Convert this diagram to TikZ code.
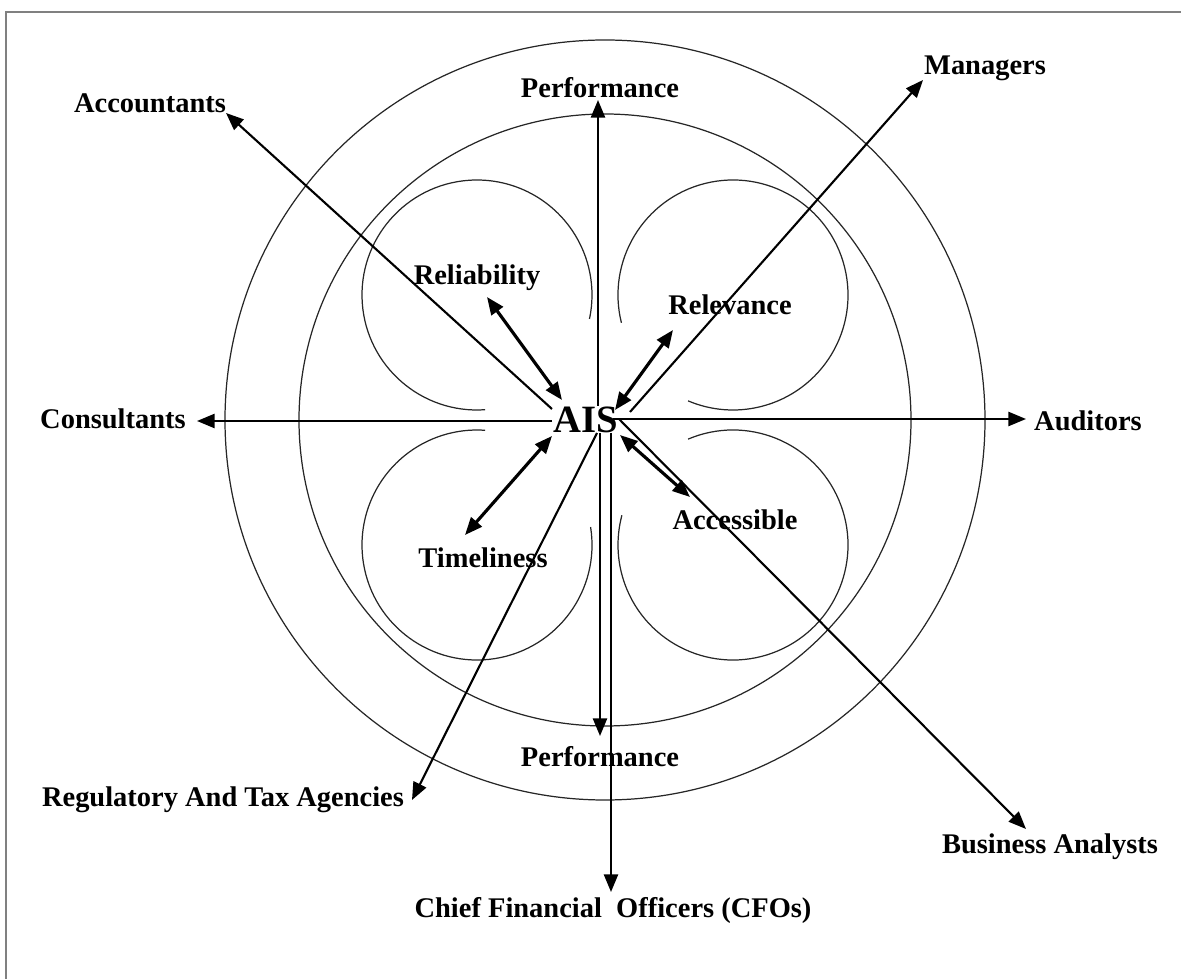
\documentclass[tikz,border=0pt]{standalone}
\usepackage{fontspec}
\setmainfont{Liberation Serif}
\usetikzlibrary{arrows.meta}

\begin{document}
\begin{tikzpicture}[x=0.02cm, y=-0.02cm, >={Triangle[length=10pt,width=8pt]},
    lbl/.style={font=\bfseries\fontsize{16.2}{19}\selectfont, inner sep=0pt},
    spoke/.style={->, line width=1.2pt},
    link/.style={<->, line width=1.8pt},
    ring/.style={line width=0.7pt, draw=black!85}]
    \useasboundingbox (0,0) rectangle (1181,979);
    \draw[gray, line width=1.2pt] (6,979) -- (6,12) -- (1181,12);
    % rings and curls
    \draw[ring] (605,420) circle[radius=380];
    \draw[ring] (605,420) circle[radius=306];
    \draw[ring] (477,295) ++(86:115) arc[start angle=86, end angle=372, radius=115];
    \draw[ring] (733,295) ++(166:115) arc[start angle=166, end angle=473, radius=115];
    \draw[ring] (477,545) ++(-9:115) arc[start angle=-9, end angle=274, radius=115];
    \draw[ring] (733,545) ++(247:115) arc[start angle=247, end angle=555, radius=115];
    % labels
    \node[font=\bfseries\fontsize{22}{24}\selectfont, inner sep=0pt] (ais) at (586,420) {AIS};
    \node[lbl] (perfT) at (600,88) {Performance};
    \node[lbl] (perfB) at (600,757) {Performance};
    \node[lbl] (acc) at (150,103) {Accountants};
    \node[lbl] (man) at (985,68) {Managers};
    \node[lbl] (cons) at (113,419) {Consultants};
    \node[lbl] (aud) at (1088,421) {Auditors};
    \node[lbl] (ba) at (1050,847) {Business Analysts};
    \node[lbl] (reg) at (223,800) {Regulatory And Tax Agencies};
    \node[lbl] (cfo) at (613,911) {Chief Financial\ \ Officers (CFOs)};
    \node[lbl] (rel) at (477,278) {Reliability};
    \node[lbl] (relv) at (730,305) {Relevance};
    \node[lbl] (time) at (483,558) {Timeliness};
    \node[lbl] (accs) at (735,520) {Accessible};
    % spoke ends
    \coordinate (perfT-s) at (598,406);  \coordinate (perfT-e) at (598,100);
    \coordinate (perfB-s) at (600,433);  \coordinate (perfB-e) at (600,736);
    \coordinate (cfo-s) at (611,433);    \coordinate (cfo-e) at (611,892);
    \coordinate (acc-s) at (552,409);    \coordinate (acc-e) at (226,113);
    \coordinate (man-s) at (630,412);    \coordinate (man-e) at (923,80);
    \coordinate (cons-s) at (552,421);   \coordinate (cons-e) at (197,421);
    \coordinate (aud-s) at (613,419);    \coordinate (aud-e) at (1026,419);
    \coordinate (ba-s) at (619,419);     \coordinate (ba-e) at (1026,829);
    \coordinate (reg-s) at (597,433);    \coordinate (reg-e) at (412,800);
    \draw[spoke] (perfT-s) -- (perfT-e);
    \draw[spoke] (perfB-s) -- (perfB-e);
    \draw[spoke] (cfo-s) -- (cfo-e);
    \draw[spoke] (acc-s) -- (acc-e);
    \draw[spoke] (man-s) -- (man-e);
    \draw[spoke] (cons-s) -- (cons-e);
    \draw[spoke] (aud-s) -- (aud-e);
    \draw[spoke] (ba-s) -- (ba-e);
    \draw[spoke] (reg-s) -- (reg-e);
    % quality links
    \coordinate (rel-a) at (562,400);    \coordinate (rel-b) at (487,297);
    \coordinate (relv-a) at (615,410);   \coordinate (relv-b) at (673,330);
    \coordinate (time-a) at (552,436);   \coordinate (time-b) at (465,535);
    \coordinate (accs-a) at (620,435);   \coordinate (accs-b) at (690,497);
    \draw[link] (rel-a) -- (rel-b);
    \draw[link] (relv-a) -- (relv-b);
    \draw[link] (time-a) -- (time-b);
    \draw[link] (accs-a) -- (accs-b);
\end{tikzpicture}
\end{document}
